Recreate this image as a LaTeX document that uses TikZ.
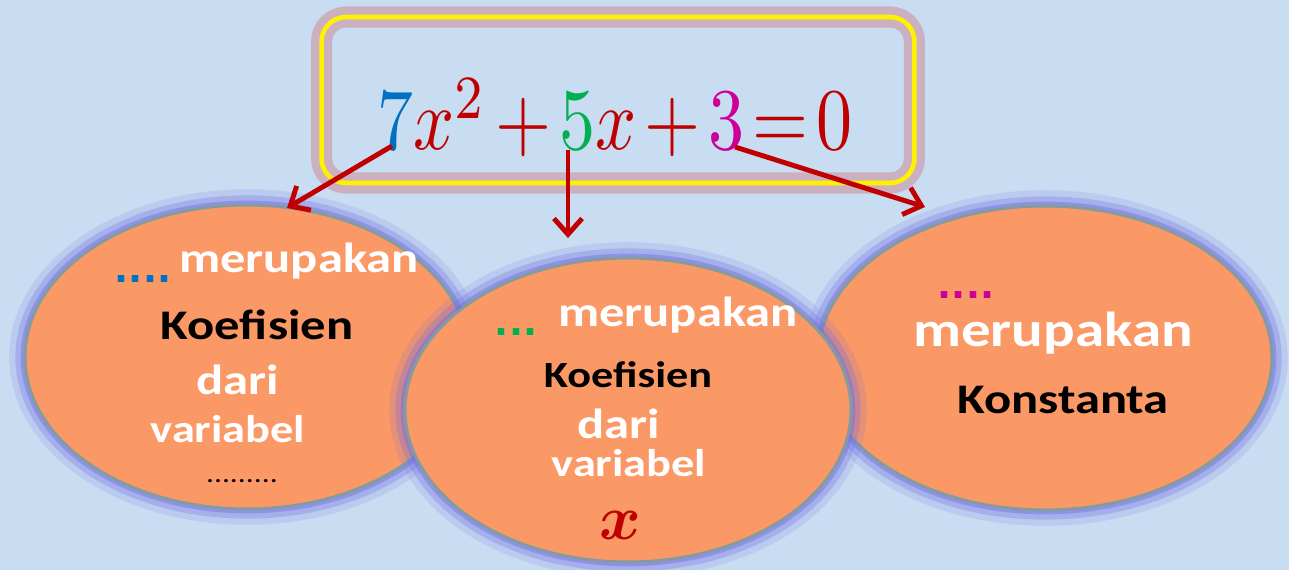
\documentclass[tikz,border=0pt]{standalone}
\usepackage{amsmath}
\usepackage{fontspec}
\setmainfont{Carlito}[FakeStretch=1.2]
\newfontfamily\titikfont{DejaVu Sans}
\usetikzlibrary{shapes.geometric,arrows.meta}
\definecolor{latar}{RGB}{200,220,242}
\definecolor{oranye}{RGB}{250,152,102}
\definecolor{tepi}{RGB}{132,156,160}
\definecolor{cahaya}{RGB}{112,108,228}
\definecolor{merah}{RGB}{192,0,0}
\definecolor{biru}{RGB}{0,112,192}
\definecolor{hijau}{RGB}{0,176,80}
\definecolor{ungu}{RGB}{204,0,153}
\tikzset{
  elips/.style={ellipse, draw=tepi, line width=1.7pt, fill=oranye,
    minimum width=8.88cm, minimum height=6.08cm, inner sep=0,
    preaction={draw=cahaya, line width=18pt, draw opacity=.15},
    preaction={draw=cahaya, line width=11pt, draw opacity=.28},
    preaction={draw=cahaya, line width=5pt, draw opacity=.45}},
  kotak/.style={draw=yellow, line width=2.6pt, rounded corners=14pt,
    minimum width=11.86cm, minimum height=3.32cm, inner sep=0,
    preaction={draw=merah!70, line width=12pt, draw opacity=.3}},
  teks/.style={font=\bfseries\fontsize{#1}{#1}\selectfont, inner sep=0, anchor=base},
  teks/.default=24,
  putih/.style={teks=#1, text=white},
  putih/.default=24,
  hitam/.style={teks=#1, text=black},
  hitam/.default=24,
  titik/.style={font=\titikfont\bfseries\fontsize{21}{21}\selectfont, inner sep=0, anchor=base},
  panah/.style={merah, line width=2.8pt, -{Straight Barb[length=9pt,width=16pt]}}
}
\begin{document}
\begin{tikzpicture}[x=0.02cm, y=-0.02cm]
    % latar
    \fill[latar] (0,0) rectangle (1289,570);
    \useasboundingbox (0,0) rectangle (1289,570);

    % persamaan kuadrat
    \node[kotak] (bingkai) at (618,100) {};
    \node[anchor=base, inner sep=0, text=merah] (persamaan) at (615,150)
        {\scalebox{4.1}[5]{$\color{biru}7\color{merah}x^2\mkern2mu{+}\mkern2mu\color{hijau}5\color{merah}x\mkern2mu{+}\mkern2mu\color{ungu}3\color{merah}\mkern2mu{=}\mkern2mu0$}};

    % elips
    \node[elips] (kiri) at (247,357) {};
    \node[elips, minimum width=9.08cm] (kanan) at (1045,358) {};
    \node[elips, minimum width=8.92cm] (tengah) at (628,410) {};

    % panah
    \coordinate (p7) at (392,146);
    \coordinate (p5) at (568,150);
    \coordinate (p3) at (735,147);
    \coordinate (u7) at (287,208);
    \coordinate (u5) at (568,238);
    \coordinate (u3) at (925,207);
    \draw[panah] (p7) -- (u7);
    \draw[panah] (p5) -- (u5);
    \draw[panah] (p3) -- (u3);

    % isi elips kiri
    \node[titik, text=biru] (t1) at (143,283) {....};
    \node[putih] (m1) at (299,273) {merupakan};
    \node[hitam] (k1) at (257,340) {Koefisien};
    \node[putih] (d1) at (238,395) {dari};
    \node[putih=22] (v1) at (228,443) {variabel};
    \node[anchor=base, inner sep=0, font=\fontsize{15}{15}\selectfont] (s1) at (242,483) {.........};

    % isi elips tengah
    \node[titik, text=hijau] (t2) at (516,336) {...};
    \node[putih] (m2) at (678,327) {merupakan};
    \node[hitam=21] (k2) at (628,388) {Koefisien};
    \node[putih] (d2) at (619,439) {dari};
    \node[putih=22] (v2) at (629,477) {variabel};
    \node[anchor=base, inner sep=0, text=merah] (vx) at (620,540) {\scalebox{3.6}{$\boldsymbol{x}$}};

    % isi elips kanan
    \node[titik, text=ungu] (t3) at (966,299) {....};
    \node[putih=28] (m3) at (1053,347) {merupakan};
    \node[hitam] (k3) at (1063,414) {Konstanta};
\end{tikzpicture}
\end{document}
